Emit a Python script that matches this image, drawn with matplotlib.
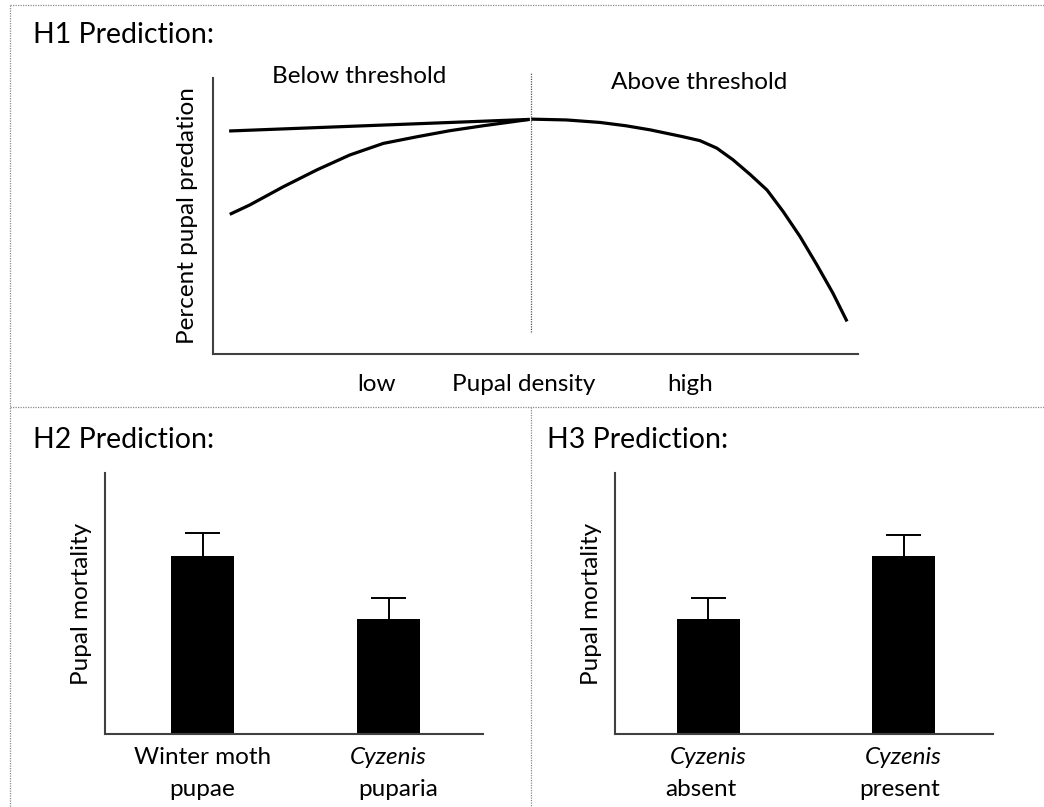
import matplotlib
matplotlib.use("Agg")
import matplotlib.pyplot as plt
from matplotlib.lines import Line2D
from matplotlib.transforms import blended_transform_factory

plt.rcParams['font.family'] = ['Lato', 'DejaVu Sans']

# ---- H1: predation vs. pupal density (schematic curves) ----
flat_x = [2.5, 49.1]
flat_y = [80.8, 85.0]

rise_x = [2.6, 5.7, 10.9, 16.1, 21.2, 26.4, 31.6, 36.7, 41.9, 49.1]
rise_y = [50.6, 54.0, 60.6, 66.7, 72.1, 76.3, 78.7, 80.9, 82.7, 85.0]

fall_x = [49.3, 54.8, 60.0, 64.0, 67.8, 72.9, 75.5, 78.1, 80.6, 83.3, 85.9,
          88.4, 91.0, 93.6, 96.1, 98.3]
fall_y = [85.1, 84.8, 83.9, 82.7, 81.2, 78.7, 77.3, 74.6, 70.4, 65.0, 59.4,
          51.6, 42.6, 32.4, 22.1, 11.8]

threshold_x = 49.3
density_labels = ["low", "Pupal density", "high"]
density_label_x = [25.3, 48.2, 74.0]

# ---- H2: mortality of winter moth pupae vs. Cyzenis puparia ----
h2_top = ["Winter moth", "Cyzenis"]
h2_bottom = ["pupae", "puparia"]
h2_values = [68.2, 44.1]
h2_errors = [8.8, 8.0]

# ---- H3: mortality with Cyzenis absent vs. present ----
h3_top = ["Cyzenis", "Cyzenis"]
h3_bottom = ["absent", "present"]
h3_values = [44.1, 68.2]
h3_errors = [8.0, 8.0]

W, H = 1044, 807
fig = plt.figure(figsize=(W / 100, H / 100), dpi=100)

FS_TITLE = 20.5
FS_TEXT = 17.5


def box(l, t, r, b):
    return [l / W, 1 - b / H, (r - l) / W, (b - t) / H]


def fig_line(x0, y0, x1, y1):
    fig.add_artist(Line2D([x0 / W, x1 / W], [1 - y0 / H, 1 - y1 / H],
                          transform=fig.transFigure, color="#8c8c8c",
                          lw=0.9, linestyle=(0, (1, 1))))


# panel frame
fig_line(10, 5, W, 5)
fig_line(10, 5, 10, H)
fig_line(10, 407, W, 407)
fig_line(531, 407, 531, H)

AX_COL = "#404040"


def style_axes(ax):
    for s in ("top", "right"):
        ax.spines[s].set_visible(False)
    for s in ("left", "bottom"):
        ax.spines[s].set_color(AX_COL)
        ax.spines[s].set_linewidth(1.5)
    ax.set_xticks([])
    ax.set_yticks([])
    ax.patch.set_alpha(0)


# ---- top panel ----
ax1 = fig.add_axes(box(213, 78, 858, 354))
style_axes(ax1)
ax1.set_xlim(0, 100)
ax1.set_ylim(0, 100)
for xs, ys in ((flat_x, flat_y), (rise_x, rise_y), (fall_x, fall_y)):
    ax1.plot(xs, ys, color="black", lw=2.3, solid_capstyle="butt",
             solid_joinstyle="round")
ax1.plot([threshold_x, threshold_x], [7.9, 101.8], color="#555555", lw=0.9,
         linestyle=(0, (1, 1)), clip_on=False)
ax1.text(22.7, 98.2, "Below threshold", ha="center", va="baseline",
         fontsize=FS_TEXT, clip_on=False)
ax1.text(75.3, 96.0, "Above threshold", ha="center", va="baseline",
         fontsize=FS_TEXT, clip_on=False)
for lab, x in zip(density_labels, density_label_x):
    ax1.text(x, -11, lab, ha="center", va="center", fontsize=FS_TEXT,
             clip_on=False)
ax1.set_ylabel("Percent pupal predation", fontsize=FS_TEXT, labelpad=11)

fig.text(33 / W, 1 - 43 / H, "H1 Prediction:", ha="left", va="baseline",
         fontsize=FS_TITLE)


def bar_panel(rect, centers_px, values, errors, tops, bottoms, title, title_x,
              top_italic, bottom_dx):
    l, t, r, b = rect
    ax = fig.add_axes(box(l, t, r, b))
    style_axes(ax)
    sep = centers_px[1] - centers_px[0]
    ax.set_xlim((l - centers_px[0]) / sep, (r - centers_px[0]) / sep)
    ax.set_ylim(0, 100)
    pos = list(range(len(values)))
    ax.bar(pos, values, width=63 / sep, color="black", zorder=2)
    # upper half of the error bar only
    tips = [v + e for v, e in zip(values, errors)]
    cap = 35 / sep / 2
    ax.vlines(pos, values, tips, color="black", lw=1.4, zorder=1)
    ax.hlines(tips, [p - cap for p in pos], [p + cap for p in pos],
              color="black", lw=1.4, zorder=1)
    ax.set_ylabel("Pupal mortality", fontsize=FS_TEXT, labelpad=9)
    tr = blended_transform_factory(ax.transData, ax.transAxes)
    for i, (a, c) in enumerate(zip(tops, bottoms)):
        ax.annotate(a, xy=(pos[i], 0), xycoords=tr, xytext=(0, -17),
                    textcoords="offset points", ha="center", va="center",
                    fontsize=FS_TEXT,
                    style="italic" if top_italic[i] else "normal")
        ax.annotate(c, xy=(pos[i], 0), xycoords=tr,
                    xytext=(bottom_dx[i] * 0.72, -40),
                    textcoords="offset points", ha="center", va="center",
                    fontsize=FS_TEXT)
    fig.text(title_x / W, 1 - 448 / H, title, ha="left", va="baseline",
             fontsize=FS_TITLE)
    return ax


bar_panel((105, 473, 483, 734), (202.5, 388.5), h2_values, h2_errors,
          h2_top, h2_bottom, "H2 Prediction:", 33, [False, True], [0, 10])
bar_panel((615, 473, 993, 734), (708, 903.5), h3_values, h3_errors,
          h3_top, h3_bottom, "H3 Prediction:", 547, [True, True], [-7, -4])

fig.savefig("out.png", dpi=100)
